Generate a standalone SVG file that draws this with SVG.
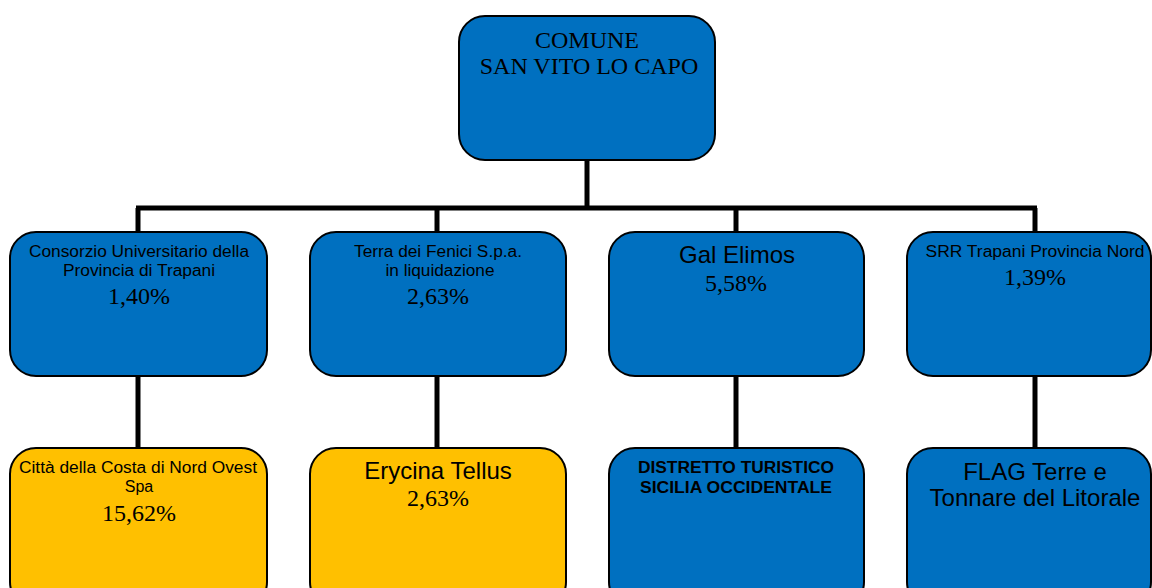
<svg xmlns="http://www.w3.org/2000/svg" width="1152" height="588" viewBox="0 0 1152 588">
<style>
.box{stroke:#000;stroke-width:2}
.blue{fill:#0070C0}
.yel{fill:#FFC000}
.conn{stroke:#000;stroke-width:5;fill:none}
.ss{font-family:"Liberation Sans",Arial,sans-serif;fill:#000;text-anchor:middle}
.sr{font-family:"Liberation Serif","Times New Roman",serif;fill:#000;text-anchor:middle}
.s16{font-size:16px}
.s24{font-size:24px}
.b{font-size:16px;font-weight:bold}
</style>
<rect width="1152" height="588" fill="#fff"/>
<g id="connectors">
<line class="conn" x1="587" y1="160" x2="587" y2="208"/>
<line class="conn" x1="136" y1="208" x2="1037" y2="208"/>
<line class="conn" x1="138" y1="208" x2="138" y2="232"/>
<line class="conn" x1="437" y1="208" x2="437" y2="232"/>
<line class="conn" x1="736" y1="208" x2="736" y2="232"/>
<line class="conn" x1="1035" y1="208" x2="1035" y2="232"/>
<line class="conn" x1="138" y1="376" x2="138" y2="448"/>
<line class="conn" x1="437" y1="376" x2="437" y2="448"/>
<line class="conn" x1="736" y1="376" x2="736" y2="448"/>
<line class="conn" x1="1035" y1="376" x2="1035" y2="448"/>
</g>
<g id="comune">
<rect class="box blue" x="459" y="16" width="256" height="144" rx="26"/>
<text class="sr s24" x="587" y="48">COMUNE</text>
<text class="sr s24" x="589" y="74">SAN VITO LO CAPO</text>
</g>
<g id="consorzio">
<rect class="box blue" x="10" y="232" width="257" height="144" rx="26"/>
<text class="ss s16" x="139" y="257" textLength="220" lengthAdjust="spacingAndGlyphs">Consorzio Universitario della</text>
<text class="ss s16" x="139" y="276" textLength="152" lengthAdjust="spacingAndGlyphs">Provincia di Trapani</text>
<text class="sr s24" x="139" y="304">1,40%</text>
</g>
<g id="terra-fenici">
<rect class="box blue" x="310" y="232" width="256" height="144" rx="26"/>
<text class="ss s16" x="438" y="257" textLength="168" lengthAdjust="spacingAndGlyphs">Terra dei Fenici S.p.a.</text>
<text class="ss s16" x="440" y="276" textLength="109" lengthAdjust="spacingAndGlyphs">in liquidazione</text>
<text class="sr s24" x="438" y="304">2,63%</text>
</g>
<g id="gal-elimos">
<rect class="box blue" x="609" y="232" width="255" height="144" rx="26"/>
<text class="ss s24" x="737" y="263">Gal Elimos</text>
<text class="sr s24" x="736" y="291">5,58%</text>
</g>
<g id="srr">
<rect class="box blue" x="907" y="232" width="244" height="144" rx="26"/>
<text class="ss s16" x="1035" y="257" textLength="219" lengthAdjust="spacingAndGlyphs">SRR Trapani Provincia Nord</text>
<text class="sr s24" x="1035" y="285">1,39%</text>
</g>
<g id="citta-costa">
<rect class="box yel" x="10" y="448" width="257" height="160" rx="26"/>
<text class="ss s16" x="138" y="473" textLength="238" lengthAdjust="spacingAndGlyphs">Città della Costa di Nord Ovest</text>
<text class="ss s16" x="139" y="492">Spa</text>
<text class="sr s24" x="139" y="521">15,62%</text>
</g>
<g id="erycina">
<rect class="box yel" x="310" y="448" width="256" height="160" rx="26"/>
<text class="ss s24" x="438" y="479">Erycina Tellus</text>
<text class="sr s24" x="438" y="506">2,63%</text>
</g>
<g id="distretto">
<rect class="box blue" x="609" y="448" width="255" height="160" rx="26"/>
<text class="ss b" x="736" y="473" textLength="196" lengthAdjust="spacingAndGlyphs">DISTRETTO TURISTICO</text>
<text class="ss b" x="736" y="493" textLength="192" lengthAdjust="spacingAndGlyphs">SICILIA OCCIDENTALE</text>
</g>
<g id="flag">
<rect class="box blue" x="907" y="448" width="244" height="160" rx="26"/>
<text class="ss s24" x="1035" y="480">FLAG Terre e</text>
<text class="ss s24" x="1035" y="506">Tonnare del Litorale</text>
</g>
</svg>
